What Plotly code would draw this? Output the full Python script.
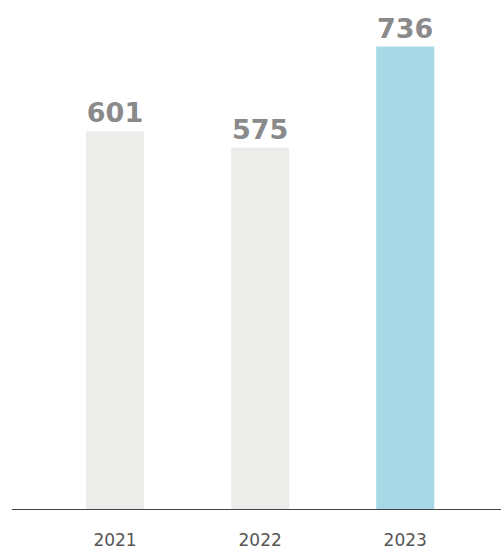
import plotly.graph_objects as go

years = ["2021", "2022", "2023"]
values = [601, 575, 736]
labels = ["601", "575", "736"]
colors = ["#ececea", "#ececea", "#a7d8e6"]

fig = go.Figure(go.Bar(
    x=years, y=values, text=labels, textposition="outside",
    marker=dict(color=colors, line=dict(width=0)),
    width=0.4, cliponaxis=False, hoverinfo="skip",
    textfont=dict(family="DejaVu Sans", size=27, color="#8a8a8a", weight="bold"),
))
fig.update_layout(
    width=501, height=550,
    margin=dict(l=12, r=0, t=0, b=39),
    paper_bgcolor="white", plot_bgcolor="white",
    showlegend=False,
    xaxis=dict(range=[-0.71, 2.66], showgrid=False, zeroline=False,
               showline=True, linecolor="#444444", linewidth=1.2,
               ticks="", ticklabelstandoff=15,
               tickfont=dict(family="DejaVu Sans", size=17, color="#555555")),
    yaxis=dict(range=[0, 810], visible=False),
)
fig.write_html("out.html", post_script="document.body.style.margin='0';",
               config={"displayModeBar": False, "staticPlot": True})
